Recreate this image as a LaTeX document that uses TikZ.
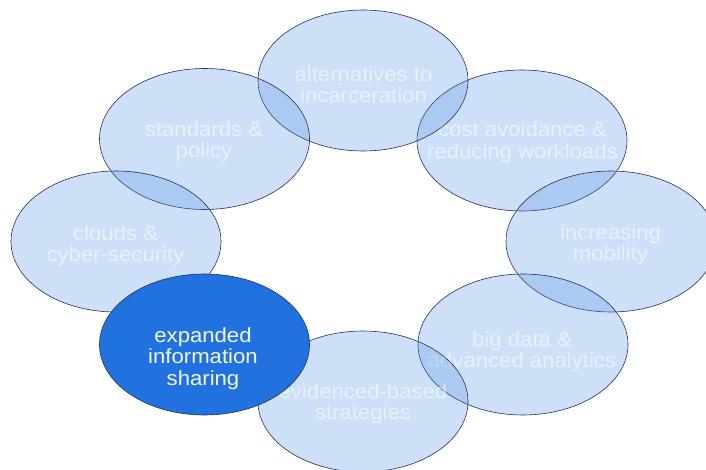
\documentclass[tikz,border=0pt]{standalone}
\usepackage{fontspec}
\setmainfont{Liberation Sans}[FakeStretch=1.08]
\usetikzlibrary{shapes.geometric}
\definecolor{bubblefill}{RGB}{74,140,225}
\definecolor{bubbleline}{RGB}{35,45,105}
\definecolor{focusfill}{RGB}{33,113,222}
\begin{document}
\begin{tikzpicture}[x=1pt, y=-1pt,
		bubble/.style={ellipse, draw=bubbleline, line width=0.6pt, fill=bubblefill, fill opacity=0.27, draw opacity=1, minimum width=210pt, minimum height=141pt, inner sep=0pt, outer sep=0pt},
		focus/.style={bubble, fill=focusfill, fill opacity=1},
		words/.style={align=center, font=\fontsize{20.5}{21.5}\selectfont, text=white, text opacity=0.55, text depth=0pt, inner sep=0pt}]
		\useasboundingbox (0,0) rectangle (706,470);
		\node[bubble] at (522,140.5) (2) {};
		\node[words] at (522.5,140) (2t) {cost avoidance \&\\reducing workloads};
		\node[bubble] at (363,80.5) (1) {};
		\node[words] at (363.5,84.5) (1t) {alternatives to\\incarceration};
		\node[bubble] at (204.5,139) (8) {};
		\node[words] at (204,139.5) (8t) {standards \&\\policy};
		\node[bubble] at (116,241.5) (7) {};
		\node[words] at (115.5,243.5) (7t) {clouds \&\\cyber-security};
		\node[bubble] at (611,241.5) (3) {};
		\node[words] at (610.5,242.5) (3t) {increasing\\mobility};
		\node[bubble] at (523,344.5) (4) {};
		\node[words] at (522,349.5) (4t) {big data \&\\advanced analytics};
		\node[bubble] at (363,401.5) (5) {};
		\node[words] at (363,401.5) (5t) {evidenced-based\\strategies};
		\node[focus] at (204.5,344.5) (6) {};
		\node[words, text opacity=0.95] at (203,356.5) (6t) {expanded\\information\\sharing};
	\end{tikzpicture}
\end{document}
